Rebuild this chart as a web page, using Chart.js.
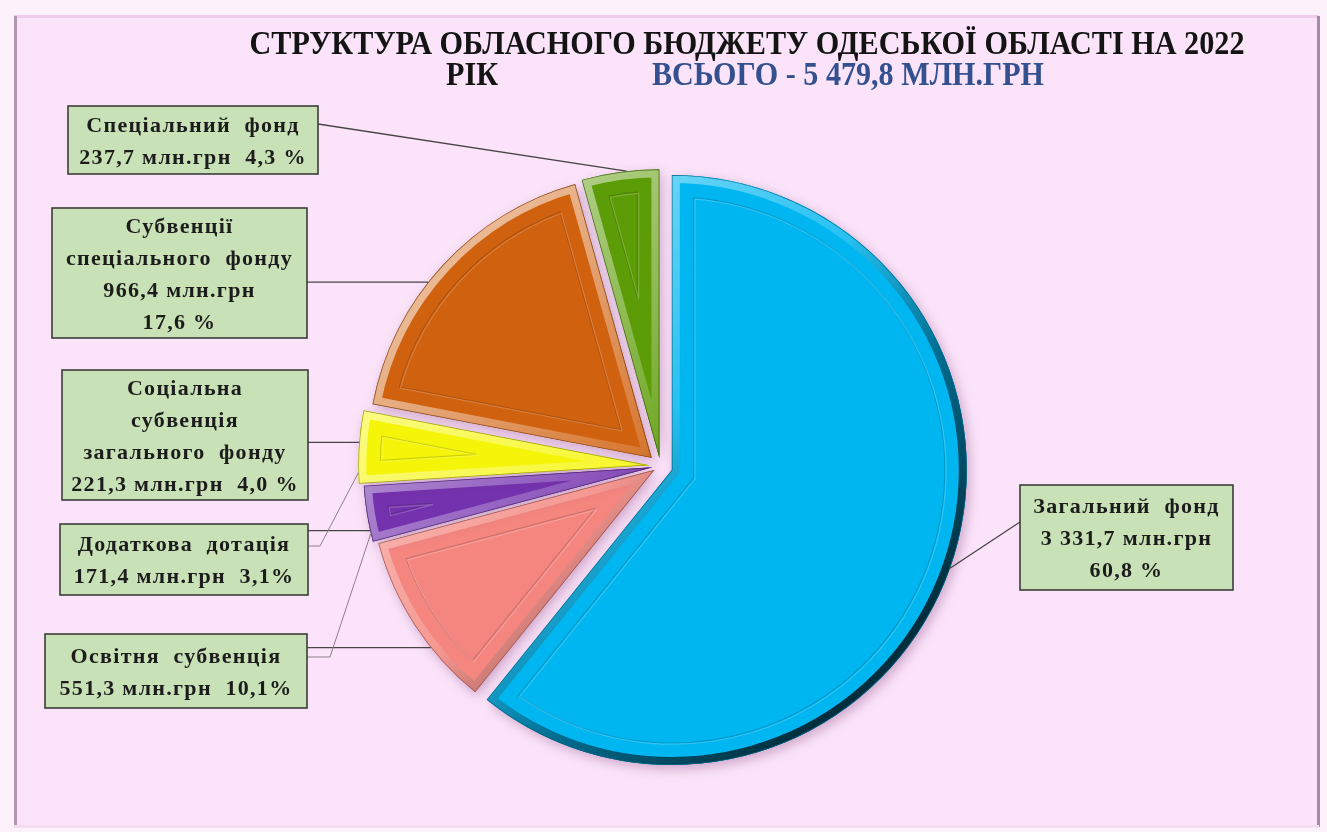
<!DOCTYPE html>
<html lang="uk">
<head>
<meta charset="utf-8">
<title>Структура обласного бюджету Одеської області на 2022 рік</title>
<script src="https://cdn.jsdelivr.net/npm/chart.js@4.4.1/dist/chart.umd.min.js"></script>
<style>
  html, body { margin: 0; padding: 0; background: #fdf3fc; }
  #wrap { position: relative; width: 1327px; height: 832px; }
</style>
</head>
<body>
<div id="wrap"><canvas id="budgetChart" width="1327" height="832"></canvas></div>
<script>
// chart data
const categories = ['Загальний фонд', 'Освітня субвенція', 'Додаткова дотація',
    'Соціальна субвенція загального фонду', 'Субвенції спеціального фонду', 'Спеціальний фонд'];
const amounts = [3331.7, 551.3, 171.4, 221.3, 966.4, 237.7];   // млн.грн
const shares = [60.8, 10.1, 3.1, 4.0, 17.6, 4.3];               // %
const budgetTotal = 5479.8;
const budgetYear = 2022;

const sliceColors = ['#00b6f0', '#f4867f', '#7432ae', '#f5f50a', '#d0610f', '#5c9c06'];
const sliceOffsets = [48, 28, 32, 44, 48, 32];

const fmt = v => {
    const [int, dec] = v.toFixed(1).split('.');
    return int.replace(/\B(?=(\d{3})+(?!\d))/g, ' ') + ',' + dec;
};

// label boxes: which slice, where, how the name is broken into lines
const callouts = [
    { slice: 0, x: 1020, y: 485, w: 213, h: 105, split: [2], rows: (a, s) => [`${a} млн.грн`, `${s} %`] },
    { slice: 1, x: 45, y: 634, w: 262, h: 74, split: [2], rows: (a, s) => [`${a} млн.грн  ${s}%`] },
    { slice: 2, x: 60, y: 524, w: 248, h: 71, split: [2], rows: (a, s) => [`${a} млн.грн  ${s}%`] },
    { slice: 3, x: 62, y: 370, w: 246, h: 130, split: [1, 1, 2], rows: (a, s) => [`${a} млн.грн  ${s} %`] },
    { slice: 4, x: 52, y: 208, w: 255, h: 130, split: [1, 2], rows: (a, s) => [`${a} млн.грн`, `${s} %`] },
    { slice: 5, x: 68, y: 106, w: 250, h: 68, split: [2], rows: (a, s) => [`${a} млн.грн  ${s} %`] }
];

// leader lines: start at a box edge, end on a slice at a fraction of its sweep
const leaders = [
    { slice: 5, at: 0.58, from: [318, 124] },
    { slice: 4, at: 0.43, from: [307, null] },
    { slice: 3, at: 0.56, from: [308, null] },
    { slice: 2, at: 0.20, from: [308, null] },
    { slice: 3, at: 0.15, from: [308, 546], elbow: 320, faint: true },
    { slice: 1, at: 0.35, from: [307, null] },
    { slice: 2, at: 0.15, from: [307, 657], elbow: 330, faint: true },
    { slice: 0, at: 0.50, from: [1020, 522] }
];

function hexToRgb(hex) {
    const n = parseInt(hex.slice(1), 16);
    return [(n >> 16) & 255, (n >> 8) & 255, n & 255];
}
function mix(hex, target, t) {
    const c = hexToRgb(hex);
    return `rgb(${c.map((v, i) => Math.round(v + (target[i] - v) * t)).join(',')})`;
}

// geometry of a drawn arc (same translation Chart.js applies for offset)
function sliceGeom(arc) {
    const p = arc.getProps(['x', 'y', 'startAngle', 'endAngle', 'outerRadius', 'circumference'], true);
    const off = (arc.options.offset || 0) / 4;
    const mid = (p.startAngle + p.endAngle) / 2;
    const fix = 1 - Math.sin(Math.min(Math.PI, p.circumference || 0));
    return {
        cx: p.x + Math.cos(mid) * off,
        cy: p.y + Math.sin(mid) * off,
        r: p.outerRadius + off * fix,
        a0: p.startAngle,
        a1: p.endAngle,
        pieX: p.x, pieY: p.y
    };
}

function slicePath(ctx, g, r, a0, a1, apex) {
    ctx.beginPath();
    ctx.moveTo(apex[0], apex[1]);
    ctx.arc(g.cx, g.cy, r, a0, a1);
    ctx.closePath();
}

const framePlugin = {
    id: 'frame',
    beforeDraw(chart) {
        const ctx = chart.ctx;
        ctx.save();
        ctx.fillStyle = '#fdf2fc';
        ctx.fillRect(0, 0, chart.width, chart.height);
        ctx.fillStyle = '#fbe4fa';
        ctx.fillRect(14, 16, 1305, 811);
        ctx.lineWidth = 3;
        ctx.strokeStyle = '#f0cdea';
        ctx.beginPath(); ctx.moveTo(14, 16.5); ctx.lineTo(1319, 16.5); ctx.stroke();
        ctx.strokeStyle = '#b697b1';
        ctx.beginPath(); ctx.moveTo(15.5, 16); ctx.lineTo(15.5, 827); ctx.stroke();
        ctx.strokeStyle = '#a98ca4';
        ctx.beginPath(); ctx.moveTo(1318.5, 16); ctx.lineTo(1318.5, 827); ctx.stroke();
        ctx.strokeStyle = '#f6dcf3';
        ctx.beginPath(); ctx.moveTo(14, 826.5); ctx.lineTo(1319, 826.5); ctx.stroke();

        // title
        ctx.textBaseline = 'alphabetic';
        ctx.textAlign = 'center';
        ctx.font = 'bold 33px "Liberation Serif", serif';
        ctx.fillStyle = '#141414';
        ctx.fillText(`СТРУКТУРА ОБЛАСНОГО БЮДЖЕТУ ОДЕСЬКОЇ ОБЛАСТІ НА ${budgetYear}`, 747, 54, 995);
        ctx.fillText('РІК', 472, 85, 52);
        ctx.fillStyle = '#34508f';
        ctx.fillText(`ВСЬОГО - ${fmt(budgetTotal)} МЛН.ГРН`, 848, 85, 392);
        ctx.restore();
    }
};

const bevelPlugin = {
    id: 'bevel',
    beforeDatasetsDraw(chart) {
        const ctx = chart.ctx;
        ctx.save();
        ctx.shadowColor = 'rgba(120, 50, 110, 0.35)';
        ctx.shadowBlur = 12;
        ctx.shadowOffsetX = 3;
        ctx.shadowOffsetY = 4;
    },
    afterDatasetsDraw(chart) {
        const ctx = chart.ctx;
        ctx.restore();
        const meta = chart.getDatasetMeta(0);
        meta.data.forEach((arc, i) => {
            const g = sliceGeom(arc);
            const base = sliceColors[i];
            ctx.save();
            slicePath(ctx, g, g.r, g.a0, g.a1, [g.cx, g.cy]);
            ctx.clip();

            // bevelled rim, lit from the top left
            const R = g.r;
            const grad = ctx.createLinearGradient(g.pieX - R * 0.7, g.pieY - R * 0.7, g.pieX + R * 0.7, g.pieY + R * 0.7);
            grad.addColorStop(0, mix(base, [255, 255, 255], 0.55));
            grad.addColorStop(0.45, mix(base, [255, 255, 255], 0.15));
            grad.addColorStop(0.7, mix(base, [0, 0, 0], 0.4));
            grad.addColorStop(1, mix(base, [0, 0, 0], 0.75));
            ctx.strokeStyle = grad;
            ctx.lineWidth = 16;
            ctx.lineJoin = 'round';
            slicePath(ctx, g, g.r, g.a0, g.a1, [g.cx, g.cy]);
            ctx.stroke();

            ctx.strokeStyle = mix(base, [0, 0, 0], 0.45);
            ctx.lineWidth = 1.5;
            ctx.globalAlpha = 0.8;
            ctx.stroke();

            // inner outline
            const d = 22;
            const half = (g.a1 - g.a0) / 2;
            const mid = (g.a0 + g.a1) / 2;
            const t = d / Math.sin(half);
            const ri = g.r - d;
            const delta = Math.asin(d / ri);
            if (g.a1 - g.a0 > 2 * delta && t < ri) {
                const apex = [g.cx + Math.cos(mid) * t, g.cy + Math.sin(mid) * t];
                ctx.globalAlpha = 0.5;
                ctx.lineWidth = 1.2;
                ctx.strokeStyle = mix(base, [0, 0, 0], 0.3);
                slicePath(ctx, g, ri, g.a0 + delta, g.a1 - delta, apex);
                ctx.stroke();
                ctx.strokeStyle = mix(base, [255, 255, 255], 0.4);
                ctx.translate(1.2, 1.2);
                slicePath(ctx, g, ri, g.a0 + delta, g.a1 - delta, apex);
                ctx.stroke();
            }
            ctx.restore();
        });
    }
};

function anchorPoint(chart, slice, at) {
    const arc = chart.getDatasetMeta(0).data[slice];
    const g = sliceGeom(arc);
    const a = g.a0 + (g.a1 - g.a0) * at;
    return [g.cx + Math.cos(a) * g.r, g.cy + Math.sin(a) * g.r];
}

const calloutPlugin = {
    id: 'callouts',
    afterDraw(chart) {
        const ctx = chart.ctx;
        ctx.save();

        leaders.forEach(l => {
            const end = anchorPoint(chart, l.slice, l.at);
            const start = [l.from[0], l.from[1] === null ? end[1] : l.from[1]];
            ctx.beginPath();
            ctx.moveTo(start[0], start[1]);
            if (l.elbow) ctx.lineTo(l.elbow, start[1]);
            ctx.lineTo(end[0], end[1]);
            ctx.strokeStyle = l.faint ? '#8c8088' : '#4a4448';
            ctx.lineWidth = l.faint ? 1 : 1.3;
            ctx.stroke();
        });

        callouts.forEach(c => {
            ctx.fillStyle = '#c8e1b6';
            ctx.fillRect(c.x, c.y, c.w, c.h);
            ctx.strokeStyle = '#3d3d3d';
            ctx.lineWidth = 1.6;
            ctx.strokeRect(c.x, c.y, c.w, c.h);

            const words = categories[c.slice].split(' ');
            const nameLines = [];
            let k = 0;
            c.split.forEach(n => { nameLines.push(words.slice(k, k + n).join('  ')); k += n; });
            const lines = nameLines.concat(c.rows(fmt(amounts[c.slice]), fmt(shares[c.slice])));

            ctx.fillStyle = '#1c1c1c';
            ctx.font = 'bold 22px "Liberation Serif", serif';
            ctx.textAlign = 'center';
            ctx.textBaseline = 'middle';
            ctx.letterSpacing = '1.3px';
            const lh = 32;
            const cy = c.y + c.h / 2;
            lines.forEach((txt, j) => {
                ctx.fillText(txt, c.x + c.w / 2, cy + (j - (lines.length - 1) / 2) * lh + 2, c.w - 8);
            });
        });
        ctx.restore();
    }
};

new Chart(document.getElementById('budgetChart'), {
    type: 'pie',
    data: {
        labels: categories,
        datasets: [{
            data: amounts,
            backgroundColor: sliceColors,
            borderWidth: 0,
            offset: sliceOffsets,
            hoverOffset: 0,
            radius: 283
        }]
    },
    options: {
        responsive: false,
        animation: false,
        devicePixelRatio: 1,
        events: [],
        layout: { padding: { left: 20, right: 26, top: 120, bottom: 20 } },
        plugins: {
            legend: { display: false },
            tooltip: { enabled: false },
            title: { display: false }
        }
    },
    plugins: [framePlugin, bevelPlugin, calloutPlugin]
});
</script>
</body>
</html>
